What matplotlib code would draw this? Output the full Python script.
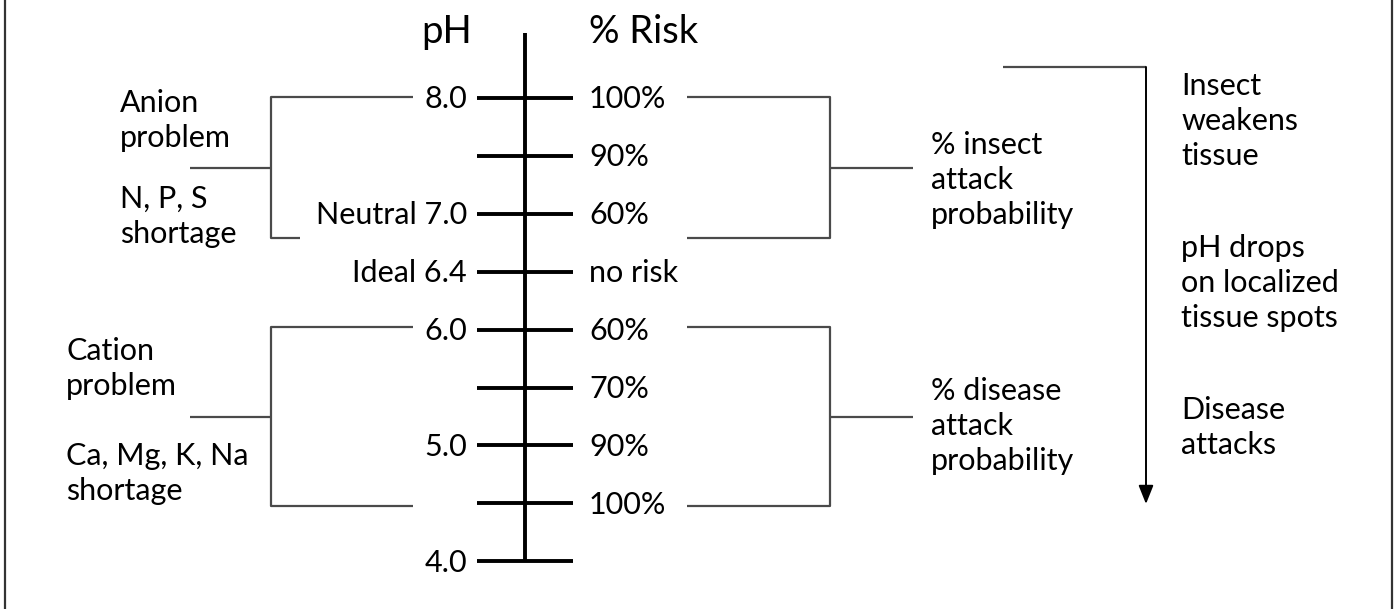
import matplotlib
matplotlib.use("Agg")
import matplotlib.pyplot as plt

plt.rcParams['font.family'] = ['Lato', 'DejaVu Sans']

# ---- data ----
ph_labels = ["8.0", "", "Neutral 7.0", "Ideal 6.4", "6.0", "", "5.0", "", "4.0"]
risk_labels = ["100%", "90%", "60%", "no risk", "60%", "70%", "90%", "100%", ""]
header_left = "pH"
header_right = "% Risk"
anion_lines = ["Anion", "problem"]
anion_short = ["N, P, S", "shortage"]
cation_lines = ["Cation", "problem"]
cation_short = ["Ca, Mg, K, Na", "shortage"]
insect_lines = ["% insect", "attack", "probability"]
disease_lines = ["% disease", "attack", "probability"]
sequence_blocks = [["Insect", "weakens", "tissue"],
                   ["pH drops", "on localized", "tissue spots"],
                   ["Disease", "attacks"]]

# ---- layout (pixel coordinates) ----
W, H = 1396, 609
fig = plt.figure(figsize=(W / 100, H / 100), dpi=100)
ax = fig.add_axes([0, 0, 1, 1])
ax.set_xlim(0, W)
ax.set_ylim(H, 0)
ax.axis('off')

FS = 22
HFS = 27.5
LINE = 35
y0, dy = 98, 57.9
axis_x = 525
tick_half = 48
tick_y = [y0 + i * dy for i in range(len(ph_labels))]

thin = dict(color='#4a4a4a', lw=1.6, solid_capstyle='butt')
thick = dict(color='black', lw=2.8, solid_capstyle='butt')

# border
ax.plot([5, 5], [-2, H + 2], color='#333333', lw=1.6)
ax.plot([1392, 1392], [-2, H + 2], color='#333333', lw=1.6)

# main axis and ticks
ax.plot([axis_x, axis_x], [33, tick_y[-1]], **thick)
for y, lp, rp in zip(tick_y, ph_labels, risk_labels):
    ax.plot([axis_x - tick_half, axis_x + tick_half], [y, y], **thick)
    if lp:
        ax.text(467, y + 10.5, lp, ha='right', va='baseline', fontsize=FS)
    if rp:
        ax.text(589, y + 10.5, rp, ha='left', va='baseline', fontsize=FS)

# headers
ax.text(447, 43, header_left, ha='center', va='baseline', fontsize=HFS)
ax.text(589, 43, header_right, ha='left', va='baseline', fontsize=HFS)


def block(x, base, lines):
    for i, t in enumerate(lines):
        ax.text(x, base + i * LINE, t, ha='left', va='baseline', fontsize=FS)


def left_bracket(top, bot, top_x_end, bot_x_end, mid):
    ax.plot([top_x_end, 271, 271, bot_x_end], [top, top, bot, bot], **thin)
    ax.plot([190, 271], [mid, mid], **thin)


def right_bracket(top, bot, mid):
    ax.plot([687, 830, 830, 687], [top, top, bot, bot], **thin)
    ax.plot([830, 913], [mid, mid], **thin)


# anion bracket (upper left)
left_bracket(97, 238, 413, 300, 168)
block(120, 112, anion_lines)
block(120, 208, anion_short)

# cation bracket (lower left)
left_bracket(327, 506, 413, 413, 417)
block(66, 360, cation_lines)
block(66, 465, cation_short)

# right brackets
right_bracket(97, 238, 168)
block(931, 154, insect_lines)
right_bracket(327, 506, 417)
block(931, 400, disease_lines)

# sequence arrow
ax.plot([1003, 1146], [67, 67], **thin)
ax.annotate('', xy=(1146, 504), xytext=(1146, 67),
            arrowprops=dict(arrowstyle='-|>,head_length=0.75,head_width=0.3',
                            color='black', lw=1.4,
                            mutation_scale=15, shrinkA=0, shrinkB=0))
for base, lines in zip([95, 257, 419], sequence_blocks):
    block(1181, base, lines)

fig.savefig("out.png", dpi=100)
